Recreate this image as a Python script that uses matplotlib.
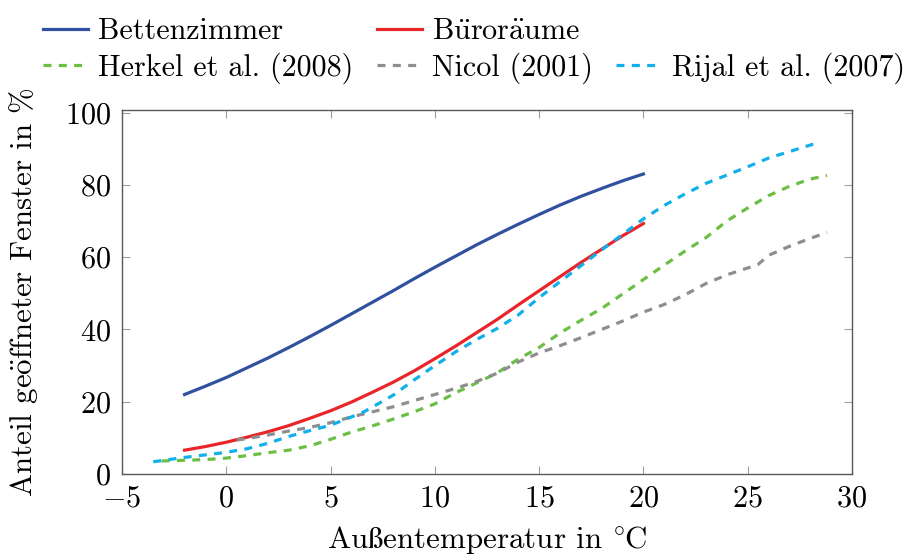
import matplotlib
matplotlib.use("Agg")
import matplotlib.pyplot as plt
from matplotlib.lines import Line2D

plt.rcParams["font.family"] = ["cmr10", "DejaVu Serif"]
plt.rcParams["mathtext.fontset"] = "cm"
plt.rcParams["axes.formatter.use_mathtext"] = True
plt.rcParams["axes.unicode_minus"] = True

# Fitted opening-probability curves (measured rooms)
temp_rooms = [-2, -1, 0, 1, 2, 3, 4, 5, 6, 7, 8, 9, 10, 11, 12, 13, 14, 15, 16, 17, 18, 19, 20]
bettenzimmer = [22.0, 24.3, 26.7, 29.4, 32.1, 35.0, 38.0, 41.1, 44.3, 47.5, 50.7, 54.0,
                57.2, 60.3, 63.4, 66.3, 69.1, 71.8, 74.4, 76.8, 79.0, 81.1, 83.0]
bueroraeume = [6.6, 7.6, 8.8, 10.2, 11.7, 13.4, 15.4, 17.5, 19.9, 22.6, 25.4, 28.5,
               31.9, 35.4, 39.1, 42.8, 46.8, 50.7, 54.6, 58.5, 62.2, 65.9, 69.3]

# Literature curves
temp_herkel = [-3.1, -2, -1, 0, 1, 2, 3, 4, 5, 6, 7, 8, 9, 10, 11, 12, 13, 14, 15, 16, 17,
               18, 19, 20, 21, 22, 23, 24, 25, 26, 27, 28, 28.8]
herkel = [3.6, 3.8, 4.0, 4.4, 5.1, 5.9, 6.6, 7.8, 9.6, 11.6, 13.3, 15.2, 17.2, 19.4, 22.5,
          25.2, 28.0, 31.8, 35.0, 39.0, 42.5, 45.8, 49.8, 53.8, 57.8, 61.7, 65.4, 70.0,
          73.6, 77.0, 79.6, 81.6, 82.6]

temp_nicol = [0.5, 1, 2, 3, 4, 5, 6, 7, 8, 9, 10, 11, 12, 13, 14, 15, 16, 17, 18, 19, 20,
              21, 22, 23, 24, 25, 25.5, 26, 27, 28, 28.8]
nicol = [9.4, 9.8, 10.8, 11.9, 12.9, 14.2, 15.8, 17.2, 18.6, 20.3, 22.0, 23.7, 25.6, 27.9,
         31.0, 33.5, 35.5, 37.7, 40.0, 42.3, 44.8, 46.9, 49.6, 52.7, 55.1, 57.0, 58.0,
         60.5, 63.0, 65.2, 66.8]

temp_rijal = [-3.5, -2, 0, 1, 2, 3, 4, 5, 6, 6.5, 7, 8, 9, 10, 11, 12, 13, 14, 15, 16, 17,
              18, 19, 20, 21, 22, 23, 24, 25, 26, 27, 28, 28.4]
rijal = [3.4, 4.6, 6.0, 7.0, 8.5, 10.4, 12.0, 13.5, 15.8, 16.9, 18.5, 21.8, 26.0, 30.0,
         33.8, 37.2, 40.3, 44.0, 48.8, 53.2, 57.6, 62.0, 66.3, 70.6, 74.3, 77.5, 80.4,
         82.7, 85.0, 87.4, 89.2, 91.0, 91.7]

x_ticks = [-5, 0, 5, 10, 15, 20, 25, 30]
y_ticks = [0, 20, 40, 60, 80, 100]

c_blue = "#3050a0"
c_red = "#e8262a"
c_green = "#6cbf45"
c_gray = "#8e8e8e"
c_cyan = "#12b0ea"

fig = plt.figure(figsize=(9.09, 5.55), dpi=100)
ax = fig.add_axes([0.1342, 0.1459, 0.9373 - 0.1342, 0.8018 - 0.1459])

lw = 2.3
dash = (2.5, 2.3)
l_bz, = ax.plot(temp_rooms, bettenzimmer, color=c_blue, lw=lw, label="Bettenzimmer")
l_br, = ax.plot(temp_rooms, bueroraeume, color=c_red, lw=lw,
                label=r"B$\mathrm{\ddot{u}}$ror$\mathrm{\ddot{a}}$ume")
l_he, = ax.plot(temp_herkel, herkel, color=c_green, lw=lw, dashes=dash,
                label="Herkel et al. (2008)")
l_ni, = ax.plot(temp_nicol, nicol, color=c_gray, lw=lw, dashes=dash, label="Nicol (2001)")
l_ri, = ax.plot(temp_rijal, rijal, color=c_cyan, lw=lw, dashes=dash,
                label="Rijal et al. (2007)")

ax.set_xlim(-5, 30)
ax.set_ylim(0, 100.7)
ax.set_xticks(x_ticks)
ax.set_yticks(y_ticks)
ax.tick_params(direction="in", length=6, width=0.8, color="#a0a0a0",
               top=True, right=True, labelsize=21.8, pad=8)
for s in ax.spines.values():
    s.set_color("#5a5a5a")
    s.set_linewidth(1.0)

ax.set_xlabel(r"Au$\mathrm{\ss}$entemperatur in $^{\circ}\hspace{-0.06}$C", fontsize=22.3,
              labelpad=8)
ax.set_ylabel(r"Anteil ge$\mathrm{\ddot{o}}$ffneter Fenster in %", fontsize=22.3,
              labelpad=18)

blank = Line2D([], [], linestyle="none", label=" ")
handles = [l_bz, l_he, l_br, l_ni, blank, l_ri]
fig.legend(handles=handles, labels=[h.get_label() for h in handles], ncol=3,
           loc="upper left", bbox_to_anchor=(0.044, 0.974), frameon=False,
           fontsize=21.7, handlelength=1.5, handletextpad=0.33, columnspacing=0.78,
           labelspacing=0.24, borderpad=0.1, borderaxespad=0)

fig.savefig("out.png", dpi=100)
